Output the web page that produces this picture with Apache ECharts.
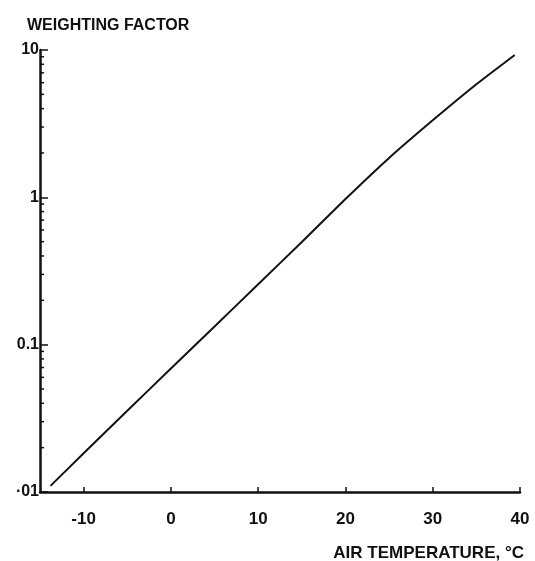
<!DOCTYPE html>
<html>
<head>
<meta charset="utf-8">
<script src="https://cdn.jsdelivr.net/npm/echarts@6/dist/echarts.min.js"></script>
<style>html,body{margin:0;padding:0;background:#fff;}#c{width:535px;height:561px;}</style>
</head>
<body>
<div id="c"></div>
<script>
// Data
const temperatures = [-13.8, -10, -5, 0, 5, 10, 15, 20, 25, 30, 35, 39.4];
const weightingFactor = [0.011, 0.0183, 0.0356, 0.0689, 0.133, 0.257, 0.498, 0.973, 1.85, 3.33, 5.85, 9.25];
const xTickValues = [-10, 0, 10, 20, 30, 40];
const xTickLabels = ['-10', '0', '10', '20', '30', '40'];
const yTickValues = [0.01, 0.1, 1, 10];
const yTickLabels = ['\u00b701', '0.1', '1', '10'];
const yMinorTicks = [0.02,0.03,0.04,0.05,0.06,0.07,0.08,0.09,0.2,0.3,0.4,0.5,0.6,0.7,0.8,0.9,2,3,4,5,6,7,8,9];

const ink = '#111';
const font = 'Liberation Sans';
const chart = echarts.init(document.getElementById('c'));
chart.setOption({
  animation: false,
  backgroundColor: '#fff',
  title: [
    {
      text: 'WEIGHTING FACTOR', left: 22, top: 13,
      textStyle: { fontFamily: font, fontSize: 16, fontWeight: 'bold', color: ink }
    },
    {
      text: 'AIR TEMPERATURE, \u00b0C', right: 6, top: 540,
      textStyle: { fontFamily: font, fontSize: 17, fontWeight: 'bold', color: ink }
    }
  ],
  grid: { left: 40, right: 15, top: 50, bottom: 69, containLabel: false },
  xAxis: {
    type: 'value', min: -15, max: 40,
    axisLine: { show: true, onZero: false, lineStyle: { color: ink, width: 2.5 } },
    axisTick: { show: true, inside: true, length: 5, lineStyle: { color: ink, width: 1.5 }, customValues: xTickValues },
    axisLabel: {
      customValues: xTickValues, margin: 19,
      fontFamily: font, fontSize: 17, fontWeight: 'bold', color: ink,
      formatter: v => xTickLabels[xTickValues.indexOf(Math.round(v))] ?? ''
    },
    splitLine: { show: false }
  },
  yAxis: {
    type: 'log', logBase: 10, min: 0.01, max: 10,
    axisLine: { show: true, onZero: false, lineStyle: { color: ink, width: 2.5 } },
    axisTick: { show: true, inside: true, length: 8, lineStyle: { color: ink, width: 1.5 } },
    axisLabel: {
      margin: 1, fontFamily: font, fontSize: 16, fontWeight: 'bold', color: ink,
      formatter: v => {
        const i = yTickValues.findIndex(t => Math.abs(Math.log10(t) - Math.log10(v)) < 1e-6);
        return i >= 0 ? yTickLabels[i] : '';
      }
    },
    splitLine: { show: false },
    minorTick: { show: false }
  },
  series: [
    {
      type: 'line',
      data: temperatures.map((t, i) => [t, weightingFactor[i]]),
      smooth: 0.2,
      showSymbol: false,
      lineStyle: { color: ink, width: 2 }
    },
    {
      type: 'custom',
      coordinateSystem: 'cartesian2d',
      data: yMinorTicks.map(v => [-15, v]),
      clip: false,
      silent: true,
      renderItem: (params, api) => {
        const p = api.coord([api.value(0), api.value(1)]);
        return {
          type: 'line',
          shape: { x1: p[0], y1: p[1], x2: p[0] + 4, y2: p[1] },
          style: { stroke: ink, lineWidth: 1.5 }
        };
      }
    }
  ]
});
</script>
</body>
</html>
